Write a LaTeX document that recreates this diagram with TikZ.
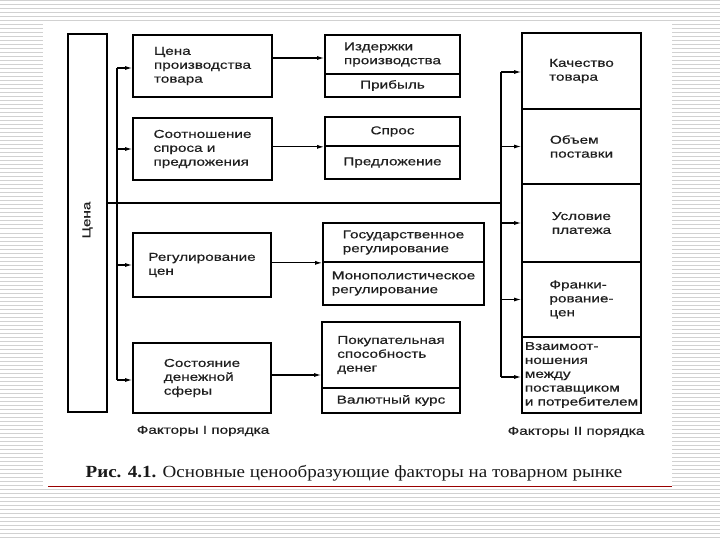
\documentclass[tikz,border=0pt]{standalone}
\usepackage{fontspec}
\setmainfont{Liberation Sans}
\newfontfamily\boxfont[FakeStretch=1.33,FakeBold=0.5]{Liberation Sans}
\newfontfamily\capfont[FakeStretch=1.12]{Liberation Serif}
\usetikzlibrary{arrows.meta}
\begin{document}
\begin{tikzpicture}[x=1pt,y=-1pt,
  stripe/.style={draw=black!18, line width=1pt},
  box/.style={draw=black, line width=1.7pt, inner sep=0pt, align=left,
    text=black!88, font=\boxfont\fontsize{11.5}{13.9}\selectfont},
  wh/.style 2 args={minimum width=#1pt, minimum height=#2pt},
  conn/.style={draw=black, line width=1.1pt},
  arr/.style={conn, -{Latex[length=7pt,width=4pt]}},
  lbl/.style={text=black!88, font=\boxfont\fontsize{11.5}{13.9}\selectfont}]
\useasboundingbox (0,0) rectangle (720,540);
% slide background
\foreach \y in {1,5,...,537} \draw[stripe] (0,\y) -- (720,\y);
\fill[white] (43,24) rectangle (672,488);
\draw[draw=red!60!black, line width=0.9pt] (48,486) -- (672,486);

% price column
\node[box, wh={39}{378}] (Cena) at (87.5,223) {};
\node[text=black!88, font=\boxfont\fontsize{11.5}{13.9}\selectfont, rotate=90] (CenaT) at (87.5,220) {Цена};

% first-order factors
\node[box, wh={139}{62}] (L1) at (202.5,66) {Цена\\производства\\товара};
\node[box, wh={139}{62}] (L2) at (202.5,149) {Соотношение\\спроса и\\предложения};
\node[box, wh={138}{64}] (L3) at (202,265) {Регулирование\\цен};
\node[box, wh={138}{70}] (L4) at (202,378) {Состояние\\денежной\\сферы};

% middle split boxes
\node[box, wh={135}{39}] (M1a) at (392.5,54.5) {Издержки\\производства};
\node[box, wh={135}{23}] (M1b) at (392.5,85.5) {Прибыль};
\node[box, wh={135}{29}] (M2a) at (392.5,131.5) {Спрос};
\node[box, wh={135}{33}] (M2b) at (392.5,162.5) {Предложение};
\node[box, wh={161}{39}] (M3a) at (403.5,242.5) {Государственное\\регулирование};
\node[box, wh={161}{43}] (M3b) at (403.5,283.5) {Монополистическое\\регулирование};
\node[box, wh={138}{66}] (M4a) at (391,355) {Покупательная\\способность\\денег};
\node[box, wh={138}{25}] (M4b) at (391,400.5) {Валютный курс};

% second-order factors
\node[box, wh={119}{76}] (R1) at (581.5,71) {Качество\\товара};
\node[box, wh={119}{75}] (R2) at (581.5,146.5) {Объем\\поставки};
\node[box, wh={119}{78}] (R3) at (581.5,223) {Условие\\платежа};
\node[box, wh={119}{75}] (R4) at (581.5,299.5) {Франки-\\рование-\\цен};
\node[box, wh={119}{76}] (R5) at (581.5,375) {Взаимоот-\\ношения\\между\\поставщиком\\и потребителем};

% labels
\node[lbl] (F1) at (203,431) {Факторы I порядка};
\node[lbl] (F2) at (576,432) {Факторы II порядка};
\node[text=black!90, font=\capfont\fontsize{17}{20}\selectfont] (Cap) at (354,473)
  {\textbf{Рис. 4.1.} Основные ценообразующие факторы на товарном рынке};

% buses
\coordinate (lbusT) at (117,68);
\coordinate (lbusB) at (117,380);
\coordinate (rbusT) at (501,72);
\coordinate (rbusB) at (501,377);
\coordinate (hub) at (501,203);
\draw[conn] (Cena.east |- hub) -- (hub);
\draw[conn] (lbusT) -- (lbusB);
\draw[conn] (rbusT) -- (rbusB);

% left bus arrows
\draw[arr] (lbusT) -- (lbusT -| L1.west);
\draw[arr] (L2.west -| lbusT) -- (L2.west);
\draw[arr] (L3.west -| lbusT) -- (L3.west);
\draw[arr] (lbusB) -- (lbusB -| L4.west);

% to middle boxes
\draw[arr] ([yshift=8pt]L1.east) -- ([yshift=8pt]L1.east -| M1a.west);
\draw[arr] (L2.east |- M2a.south west) -- (M2a.south west);
\draw[arr] (L3.east |- M3a.south west) -- (M3a.south west);
\draw[arr] ([yshift=3pt]L4.east) -- ([yshift=3pt]L4.east -| M4a.west);

% right bus arrows
\draw[arr] (rbusT) -- (rbusT -| R1.west);
\draw[arr] (R2.west -| rbusT) -- (R2.west);
\draw[arr] (R3.west -| rbusT) -- (R3.west);
\draw[arr] (R4.west -| rbusT) -- (R4.west);
\draw[arr] (rbusB) -- (rbusB -| R5.west);
\end{tikzpicture}
\end{document}
